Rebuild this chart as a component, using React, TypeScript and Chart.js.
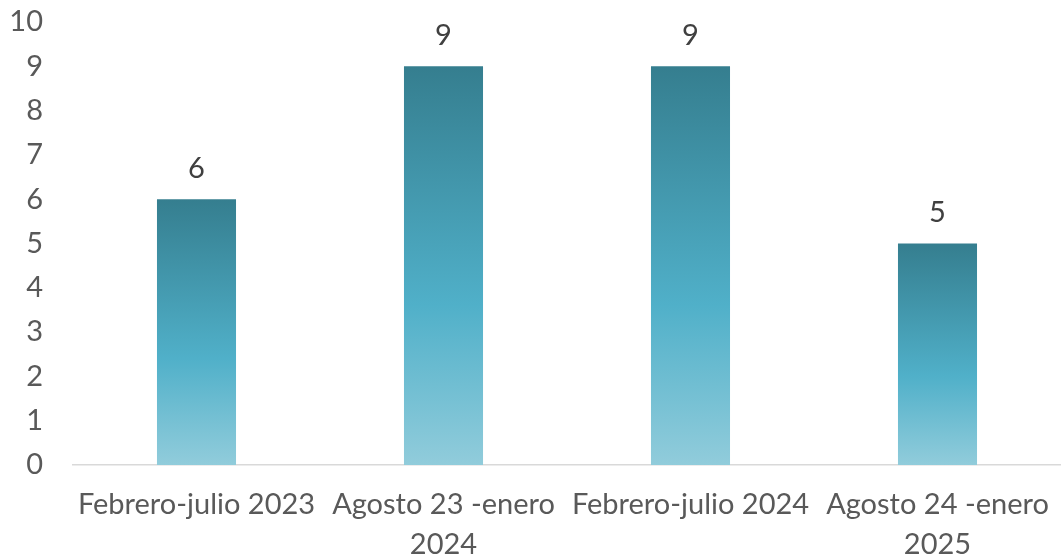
import React, { useEffect, useRef } from "react";
import { Chart, registerables } from "chart.js";

Chart.register(...registerables);

const categories: (string | string[])[] = [
  "Febrero-julio 2023",
  ["Agosto 23 -enero", "2024"],
  "Febrero-julio 2024",
  ["Agosto 24 -enero", "2025"],
];
const values: number[] = [6, 9, 9, 5];
const yTicks: number[] = [0, 1, 2, 3, 4, 5, 6, 7, 8, 9, 10];

const FONT = "Lato, 'Open Sans', sans-serif";

const valueLabels = {
  id: "valueLabels",
  afterDatasetsDraw(chart: any) {
    const { ctx } = chart;
    const meta = chart.getDatasetMeta(0);
    ctx.save();
    ctx.fillStyle = "#404040";
    ctx.font = `29px ${FONT}`;
    ctx.textAlign = "center";
    ctx.textBaseline = "middle";
    meta.data.forEach((bar: any, i: number) => {
      ctx.fillText(String(values[i]), bar.x, bar.y - 31);
    });
    ctx.restore();
  },
};

export default function App() {
  const ref = useRef<HTMLCanvasElement | null>(null);

  useEffect(() => {
    document.body.style.margin = "0";
    const canvas = ref.current;
    if (!canvas) return;
    const chart = new Chart(canvas, {
      type: "bar",
      data: {
        labels: categories,
        datasets: [
          {
            data: values,
            barPercentage: 0.32,
            categoryPercentage: 1,
            borderWidth: 0,
            backgroundColor: (ctx: any) => {
              const c = ctx.chart;
              const y = c.scales?.y;
              if (!c.chartArea || !y || ctx.dataIndex == null) return "#4eafc8";
              const v = values[ctx.dataIndex];
              const top = y.getPixelForValue(v);
              const bottom = y.getPixelForValue(0);
              if (!isFinite(top) || !isFinite(bottom) || top === bottom) return "#4eafc8";
              const g = c.ctx.createLinearGradient(0, top, 0, bottom);
              g.addColorStop(0, "#357e8f");
              g.addColorStop(0.6, "#50b0c9");
              g.addColorStop(1, "#91ccdb");
              return g;
            },
          },
        ],
      },
      options: {
        animation: false,
        responsive: false,
        maintainAspectRatio: false,
        layout: { padding: { top: 22, right: 0, left: 0, bottom: 0 } },
        plugins: {
          legend: { display: false },
          tooltip: { enabled: false },
        },
        scales: {
          x: {
            grid: { display: false, drawTicks: true, tickLength: 20 },
            border: { display: true, color: "#d9d9d9", width: 1.5 },
            ticks: {
              color: "#595959",
              font: { family: FONT, size: 29, lineHeight: 1.38 },
              padding: 0,
              maxRotation: 0,
              autoSkip: false,
            },
            afterFit: (scale: any) => {
              scale.height = 91;
            },
          },
          y: {
            min: 0,
            max: 10,
            afterBuildTicks: (scale: any) => {
              scale.ticks = yTicks.map((v) => ({ value: v }));
            },
            grid: { display: false, drawTicks: true, tickLength: 30 },
            border: { display: false },
            ticks: {
              color: "#595959",
              font: { family: FONT, size: 29 },
              padding: 0,
            },
            afterFit: (scale: any) => {
              scale.width = 73;
            },
          },
        },
      },
      plugins: [valueLabels],
    });
    return () => chart.destroy();
  }, []);

  return (
    <div style={{ width: 1061, height: 556 }}>
      <canvas ref={ref} width={1061} height={556} style={{ display: "block" }} />
    </div>
  );
}
